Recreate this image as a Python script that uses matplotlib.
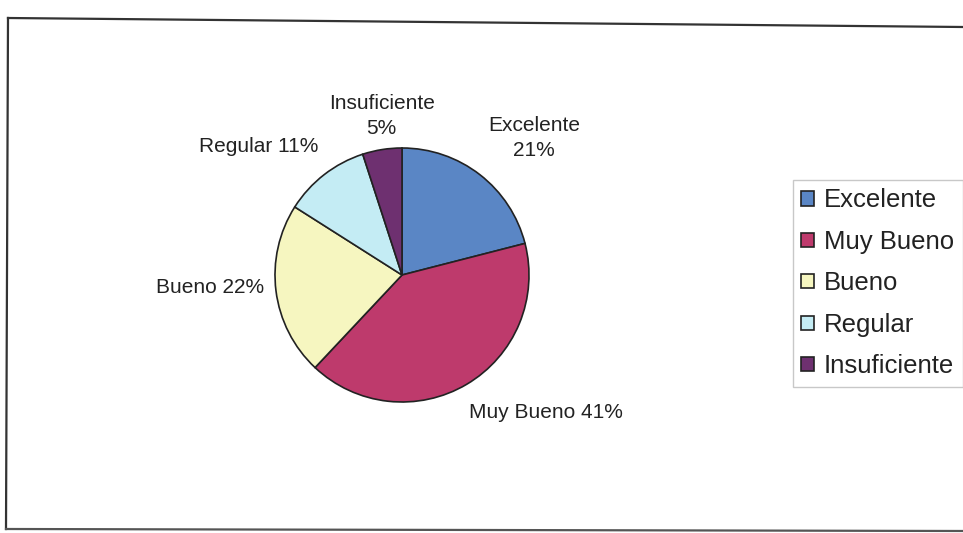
import matplotlib.pyplot as plt
from matplotlib.lines import Line2D
from matplotlib.transforms import Affine2D

# Datos
categorias = ["Excelente", "Muy Bueno", "Bueno", "Regular", "Insuficiente"]
porcentajes = [21, 41, 22, 11, 5]
colores = ["#5A86C5", "#BE3A6C", "#F6F6C0", "#C4ECF4", "#6E3070"]
etiquetas = ["Excelente\n21%", "Muy Bueno 41%", "Bueno 22%", "Regular 11%", "Insuficiente\n5%"]

plt.rcParams["font.family"] = ["Liberation Sans", "DejaVu Sans"]

W, H = 963, 533
fig = plt.figure(figsize=(W / 100, H / 100), dpi=100)
fig.patch.set_facecolor("white")

# centro de la torta en pixeles y radio
cx, cy, r = 402, 275, 127
ax = fig.add_axes([0, 0, 1, 1])
wedges, _ = ax.pie(porcentajes, colors=colores, startangle=90, counterclock=False,
                   wedgeprops=dict(edgecolor="#222222", linewidth=1.2))
ax.set_xlim(-cx / r, (W - cx) / r)
ax.set_ylim(-(H - cy) / r, cy / r)
ax.set_aspect("auto")
ax.axis("off")

# etiquetas (posicion en radios respecto del centro)
pos_etiquetas = [(1.04, 1.08), (1.13, -1.08), (-1.51, -0.10), (-1.13, 1.01), (-0.16, 1.25)]
for txt, (px, py) in zip(etiquetas, pos_etiquetas):
    ax.text(px, py, txt, ha="center", va="center", fontsize=15,
            color="#222222", linespacing=1.4)

# leyenda
leg = fig.legend(wedges, categorias, loc="upper left",
                 bbox_to_anchor=(793 / W, 1 - 180 / H), borderaxespad=0,
                 fontsize=18.5, frameon=True, fancybox=False, edgecolor="#BBBBBB",
                 handlelength=0.48, handleheight=0.48, handletextpad=0.4,
                 labelspacing=0.68, borderpad=0.33)
leg.get_frame().set_linewidth(1.0)
for t in leg.get_texts():
    t.set_color("#222222")

# marco del grafico (ligeramente torcido como en el escaneo)
px_tr = Affine2D().scale(1 / W, 1 / H) + fig.transFigure
def linea(x0, y0, x1, y1, lw=1.6, c="#333333"):
    fig.add_artist(Line2D([x0, x1], [H - y0, H - y1], transform=px_tr, color=c, lw=lw))

linea(8, 18, 963, 27)
linea(8, 18, 6, 529)
linea(6, 529, 963, 531, c="#555555")

fig.savefig("out.png", dpi=100)
